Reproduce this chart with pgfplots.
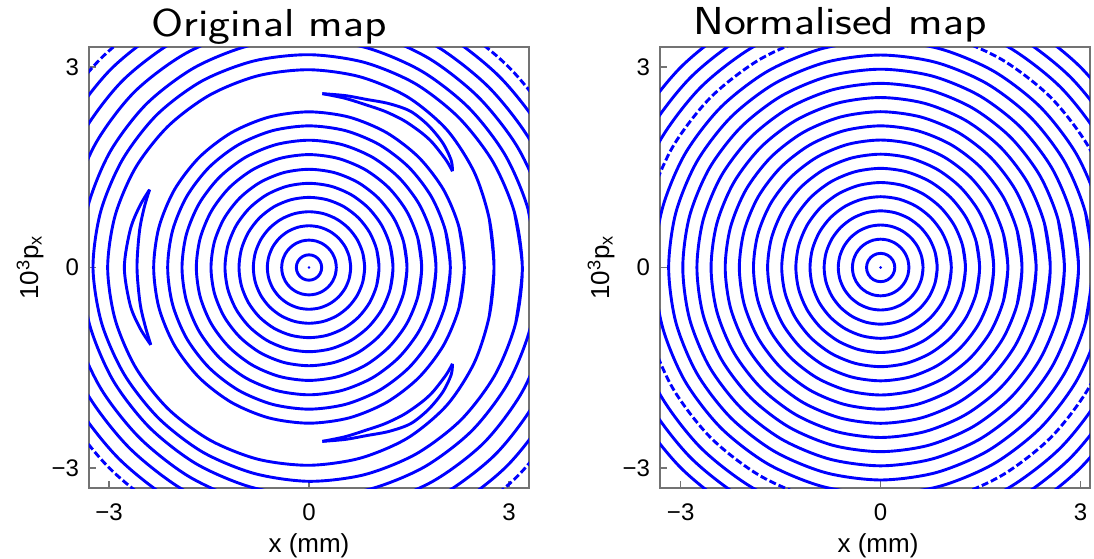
\documentclass[border=0pt]{standalone}
\usepackage{fontspec}
\setmainfont{Liberation Sans}
\usepackage{pgfplots}
\pgfplotsset{compat=1.18}
\definecolor{ringblue}{RGB}{0,0,255}
\pgfplotsset{
  ring/.style={ringblue, line width=1.45pt, smooth, data cs=polar, mark=none},
  dashring/.style={ring, dash pattern=on 3.5pt off 1.5pt},
  common/.style={
    scale only axis, ymin=-3.3, ymax=3.3,
    xtick={-3,0,3}, ytick={-3,0,3},
    xticklabels={−3,0,3}, yticklabels={−3,0,3},
    tick pos=left, tick align=inside, major tick length=3.5pt,
    axis line style={draw=black!55, line width=0.6pt},
    tick style={draw=black!55, line width=0.6pt},
    tick label style={font=\fontsize{12}{14}\selectfont},
    xticklabel style={yshift=-4.5pt},
    yticklabel style={xshift=-1.5pt},
    label style={font=\fontsize{13}{15}\selectfont},
    ylabel={10\textsuperscript{3}p\textsubscript{x}},
    xlabel={x (mm)},
  },
}
% circle of radius #2 given in polar form (angle, radius)
\newcommand{\ringc}[2][]{\addplot[ring,#1] coordinates {(-15,#2)(0,#2)(15,#2)(30,#2)(45,#2)(60,#2)(75,#2)(90,#2)(105,#2)(120,#2)(135,#2)(150,#2)(165,#2)(180,#2)(195,#2)(210,#2)(225,#2)(240,#2)(255,#2)(270,#2)(285,#2)(300,#2)(315,#2)(330,#2)(345,#2)(360,#2)(375,#2)};}
\begin{document}
\begin{tikzpicture}
\useasboundingbox (0,0) rectangle (547pt,279pt);
\node[anchor=base, xscale=1.19, font=\sffamily\fontsize{19.5}{22}\selectfont] at (134.5pt,260.5pt) {Original map};
\node[anchor=base, xscale=1.19, font=\sffamily\fontsize{19.5}{22}\selectfont] at (420pt,261.5pt) {Normalised map};
% ---------------- left: original map ----------------
\begin{axis}[common, at={(44.5pt,35pt)}, anchor=south west,
  width=220pt, height=220.5pt, xmin=-3.3, xmax=3.3,
  xlabel style={at={(axis description cs:0.5,-0.1315)}, anchor=center},
  ylabel style={at={(axis description cs:-0.134,0.5)}, anchor=center}]
\ringc{0.19}\ringc{0.41}\ringc{0.625}\ringc{0.835}\ringc{1.05}\ringc{1.26}
\ringc{1.47}\ringc{1.69}\ringc{1.905}\ringc{2.12}\ringc{2.33}
% island chain
\addplot[ring] coordinates {(154,2.66)(160,2.70)(168,2.74)(180,2.77)(192,2.74)(200,2.69)(206,2.64)};
\addplot[ring] coordinates {(154,2.66)(160,2.63)(168,2.60)(180,2.58)(192,2.59)(200,2.61)(206,2.64)};
\addplot[ring] coordinates {(85.6,2.61)(78,2.63)(71,2.66)(64,2.73)(57,2.79)(50,2.78)(43,2.74)(37,2.67)(33.8,2.59)};
\addplot[ring] coordinates {(85.6,2.61)(78,2.59)(71,2.58)(64,2.60)(57,2.62)(50,2.63)(45,2.63)(38,2.61)(33.8,2.59)};
\addplot[ring] coordinates {(-85.6,2.61)(-78,2.63)(-71,2.66)(-64,2.73)(-57,2.79)(-50,2.78)(-43,2.74)(-37,2.67)(-33.8,2.59)};
\addplot[ring] coordinates {(-85.6,2.61)(-78,2.59)(-71,2.58)(-64,2.60)(-57,2.62)(-50,2.63)(-45,2.63)(-38,2.61)(-33.8,2.59)};
% outer orbits
\addplot[ring] coordinates {(-15,2.80)(0,2.775)(15,2.80)(30,2.86)(45,2.92)(60,2.95)(75,2.955)(90,2.96)(105,2.97)(120,2.98)(135,2.99)(150,3.0)(165,3.01)(180,3.02)(195,3.01)(210,3.0)(225,2.99)(240,2.98)(255,2.97)(270,2.96)(285,2.955)(300,2.95)(315,2.92)(330,2.86)(345,2.80)(360,2.775)(375,2.80)};
\addplot[ring] coordinates {(-15,3.21)(0,3.2)(15,3.19)(30,3.18)(45,3.175)(60,3.18)(75,3.18)(90,3.185)(105,3.20)(120,3.22)(135,3.23)(150,3.23)(165,3.235)(180,3.24)(195,3.22)(210,3.20)(225,3.19)(240,3.19)(255,3.19)(270,3.2)(285,3.21)(300,3.22)(315,3.225)(330,3.22)(345,3.21)(360,3.2)(375,3.19)};
\addplot[ring] coordinates {(-15,3.44)(0,3.42)(15,3.40)(30,3.39)(45,3.385)(60,3.39)(75,3.40)(90,3.42)(105,3.44)(120,3.45)(135,3.455)(150,3.45)(165,3.44)(180,3.42)(195,3.40)(210,3.39)(225,3.385)(240,3.39)(255,3.40)(270,3.42)(285,3.44)(300,3.45)(315,3.455)(330,3.45)(345,3.44)(360,3.42)(375,3.40)};
\addplot[ring] coordinates {(-15,3.68)(0,3.655)(15,3.63)(30,3.61)(45,3.60)(60,3.61)(75,3.63)(90,3.655)(105,3.68)(120,3.70)(135,3.71)(150,3.70)(165,3.68)(180,3.655)(195,3.63)(210,3.61)(225,3.60)(240,3.61)(255,3.63)(270,3.655)(285,3.68)(300,3.70)(315,3.71)(330,3.70)(345,3.68)(360,3.655)(375,3.63)};
\addplot[ring] coordinates {(-15,3.92)(0,3.885)(15,3.85)(30,3.825)(45,3.815)(60,3.825)(75,3.85)(90,3.885)(105,3.92)(120,3.945)(135,3.955)(150,3.945)(165,3.92)(180,3.885)(195,3.85)(210,3.825)(225,3.815)(240,3.825)(255,3.85)(270,3.885)(285,3.92)(300,3.945)(315,3.955)(330,3.945)(345,3.92)(360,3.885)(375,3.85)};
\addplot[ring] coordinates {(-15,4.16)(0,4.12)(15,4.08)(30,4.05)(45,4.04)(60,4.05)(75,4.08)(90,4.12)(105,4.16)(120,4.19)(135,4.20)(150,4.19)(165,4.16)(180,4.12)(195,4.08)(210,4.05)(225,4.04)(240,4.05)(255,4.08)(270,4.12)(285,4.16)(300,4.19)(315,4.20)(330,4.19)(345,4.16)(360,4.12)(375,4.08)};
\addplot[dashring] coordinates {(0,4.33)(15,4.285)(30,4.25)(45,4.24)(60,4.25)(75,4.285)(90,4.33)(105,4.375)(120,4.41)(135,4.42)(150,4.41)(165,4.375)(180,4.33)(195,4.285)(210,4.25)(225,4.24)(240,4.25)(255,4.285)(270,4.33)(285,4.375)(300,4.41)(315,4.42)(330,4.41)(345,4.375)(360,4.33)};
\addplot[only marks, mark=*, mark size=0.45pt, ringblue] coordinates {(0,0)};
\end{axis}
% ---------------- right: normalised map ----------------
\begin{axis}[common, at={(330pt,35pt)}, anchor=south west,
  width=215pt, height=220.5pt, xmin=-3.31, xmax=3.14,
  xlabel style={at={(axis description cs:0.507,-0.1315)}, anchor=center},
  ylabel style={at={(axis description cs:-0.137,0.5)}, anchor=center}]
\ringc{0.212}\ringc{0.424}\ringc{0.636}\ringc{0.848}\ringc{1.06}\ringc{1.272}
\ringc{1.484}\ringc{1.696}\ringc{1.908}\ringc{2.12}\ringc{2.332}\ringc{2.544}
\ringc{2.756}\ringc{2.968}\ringc{3.18}\ringc{3.392}\ringc[dashring]{3.604}\ringc{3.816}
\ringc{4.028}\ringc{4.24}
\addplot[only marks, mark=*, mark size=0.45pt, ringblue] coordinates {(0,0)};
\end{axis}
\end{tikzpicture}
\end{document}
